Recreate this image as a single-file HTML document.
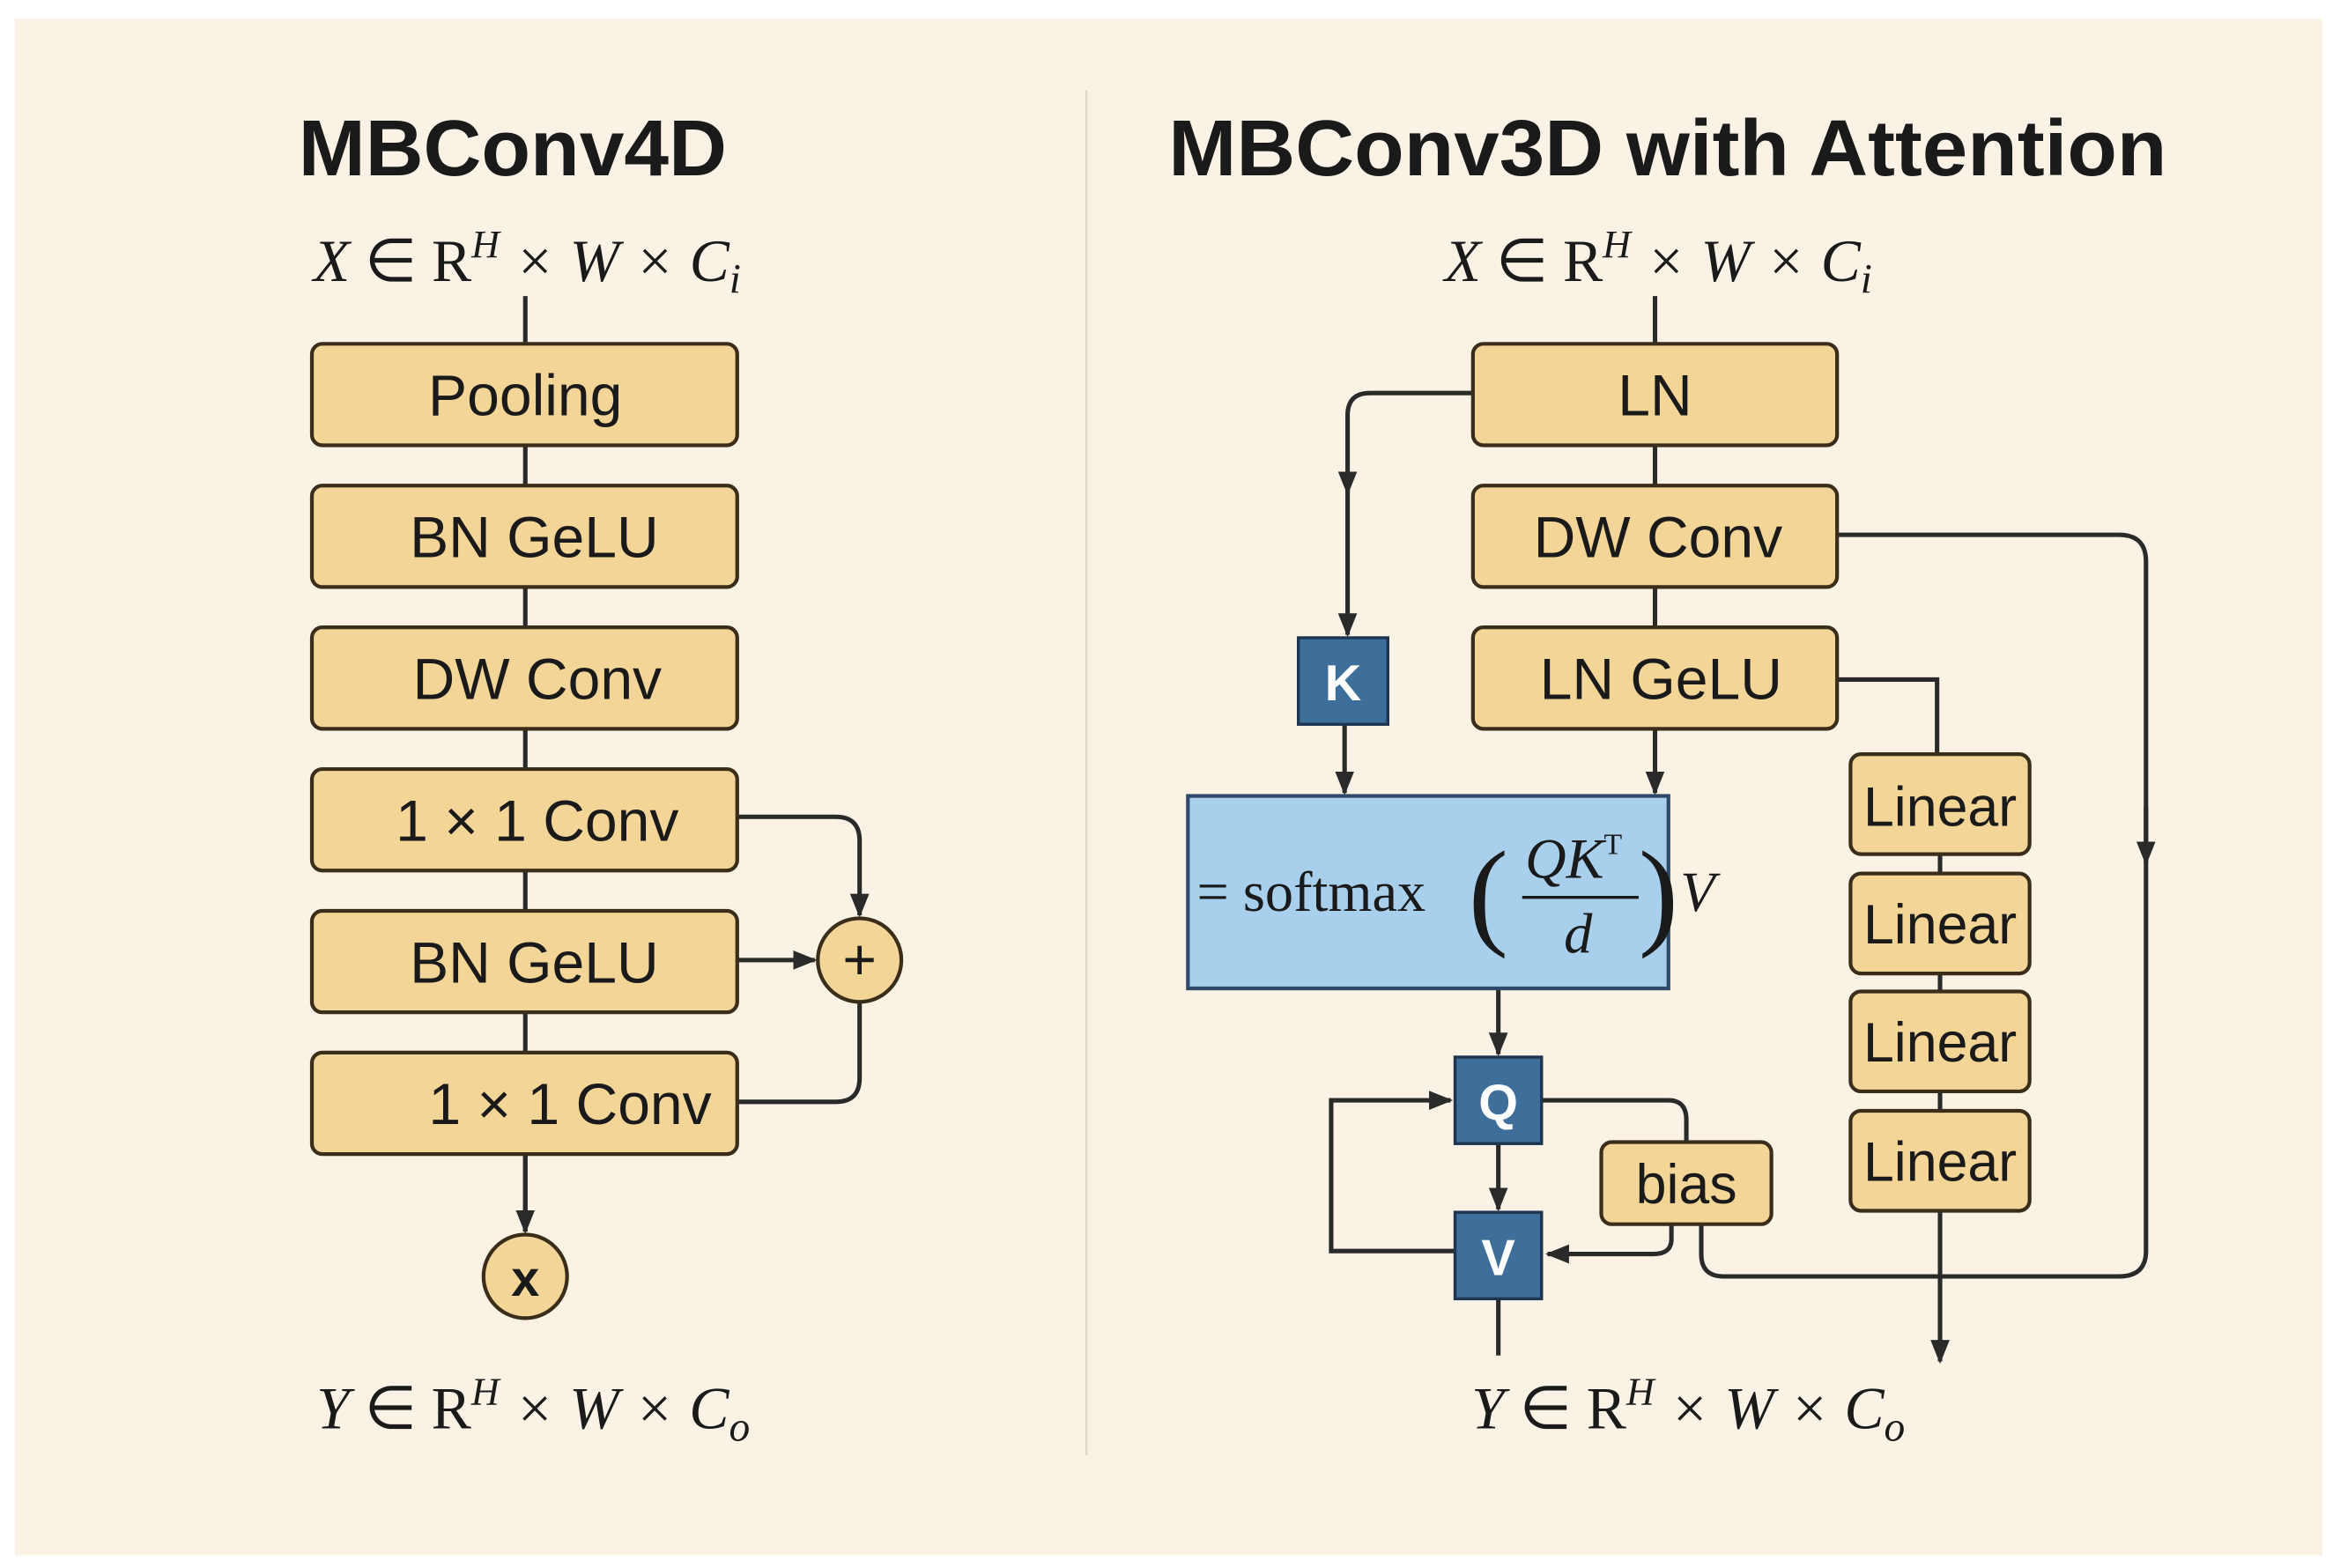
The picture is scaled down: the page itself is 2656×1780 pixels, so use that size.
<!DOCTYPE html>
<html><head><meta charset="utf-8"><style>
html,body{margin:0;padding:0;background:#fff;}
svg{display:block;}
.t{font-family:"Liberation Sans",sans-serif;fill:#1a1a1a;}
.m{font-family:"Liberation Serif",serif;font-style:italic;fill:#1a1a1a;}
</style></head><body>
<svg width="2656" height="1780" viewBox="0 0 1568 1050" xmlns="http://www.w3.org/2000/svg">
<defs>
<marker id="A" viewBox="0 0 10 10" refX="9" refY="5" markerWidth="16" markerHeight="16" markerUnits="userSpaceOnUse" orient="auto"><path d="M0,1 L10,5 L0,9 z" fill="#2a2a2a"/></marker>
</defs>
<rect width="1568" height="1050" fill="#ffffff"/>
<rect x="10" y="12" width="1546" height="1030" fill="#faf2e5"/>
<line x1="728" y1="60" x2="728" y2="975" stroke="#e2d8c8" stroke-width="1.5"/>
<text x="200" y="117" class="t" font-size="53" font-weight="bold" textLength="287" lengthAdjust="spacingAndGlyphs">MBConv4D</text>
<text x="783" y="117" class="t" font-size="53" font-weight="bold" textLength="669" lengthAdjust="spacingAndGlyphs">MBConv3D with Attention</text>
<g fill="none" stroke="#2a2a2a" stroke-width="3">
<line x1="352" y1="198" x2="352" y2="825" />
<line x1="352" y1="773" x2="352" y2="825" marker-end="url(#A)"/>
<path d="M494,547 L560,547 Q576,547 576,563 L576,613" marker-end="url(#A)"/>
<line x1="494" y1="643" x2="546" y2="643" marker-end="url(#A)"/>
<path d="M494,738 L560,738 Q576,738 576,722 L576,672"/>
<line x1="1109" y1="198" x2="1109" y2="420"/>
<path d="M987,263 L918,263 Q903,263 903,278 L903,330" marker-end="url(#A)"/>
<line x1="903" y1="320" x2="903" y2="425" marker-end="url(#A)"/>
<line x1="901" y1="485" x2="901" y2="531" marker-end="url(#A)"/>
<line x1="1109" y1="488" x2="1109" y2="531" marker-end="url(#A)"/>
<path d="M1231,358 L1420,358 Q1438,358 1438,376 L1438,838 Q1438,855 1420,855 L1155,855 Q1140,855 1140,840 L1140,820"/>
<line x1="1438" y1="540" x2="1438" y2="578" marker-end="url(#A)"/>
<path d="M1231,455 L1298,455 L1298,505"/>
<line x1="1300" y1="572" x2="1300" y2="585"/><line x1="1300" y1="652" x2="1300" y2="664"/><line x1="1300" y1="731" x2="1300" y2="744"/>
<line x1="1300" y1="811" x2="1300" y2="912" marker-end="url(#A)"/>
<line x1="1004" y1="662" x2="1004" y2="706" marker-end="url(#A)"/>
<line x1="1004" y1="766" x2="1004" y2="810" marker-end="url(#A)"/>
<path d="M975,838 L892,838 L892,737 L972,737" marker-end="url(#A)"/>
<path d="M1033,737 L1118,737 Q1130,737 1130,750 L1130,765"/>
<path d="M1120,820 L1120,830 Q1120,840 1108,840 L1037,840" marker-end="url(#A)"/>
<line x1="1004" y1="870" x2="1004" y2="908"/>
</g>
<g fill="#f3d597" stroke="#3a2e1a" stroke-width="2.5">
<rect x="209" y="230" width="285" height="68" rx="7"/>
<rect x="209" y="325" width="285" height="68" rx="7"/>
<rect x="209" y="420" width="285" height="68" rx="7"/>
<rect x="209" y="515" width="285" height="68" rx="7"/>
<rect x="209" y="610" width="285" height="68" rx="7"/>
<rect x="209" y="705" width="285" height="68" rx="7"/>
<circle cx="576" cy="643" r="28"/>
<circle cx="352" cy="855" r="28"/>
<rect x="987" y="230" width="244" height="68" rx="7"/>
<rect x="987" y="325" width="244" height="68" rx="7"/>
<rect x="987" y="420" width="244" height="68" rx="7"/>
<rect x="1073" y="765" width="114" height="55" rx="7"/>
<rect x="1240" y="505" width="120" height="67" rx="7"/>
<rect x="1240" y="585" width="120" height="67" rx="7"/>
<rect x="1240" y="664" width="120" height="67" rx="7"/>
<rect x="1240" y="744" width="120" height="67" rx="7"/>
</g>
<rect x="796" y="533" width="322" height="129" fill="#a8d0ec" stroke="#2e4a6b" stroke-width="2.5"/>
<g fill="#3e6f9a" stroke="#1e3550" stroke-width="2">
<rect x="870" y="427" width="60" height="58"/>
<rect x="975" y="708" width="58" height="58"/>
<rect x="975" y="812" width="58" height="58"/>
</g>
<g class="t" font-size="39" text-anchor="middle">
<text x="352" y="278">Pooling</text>
<text x="358" y="373">BN GeLU</text>
<text x="360" y="468">DW Conv</text>
<text x="360" y="563">1 × 1 Conv</text>
<text x="358" y="658">BN GeLU</text>
<text x="382" y="753">1 × 1 Conv</text>
<text x="576" y="656">+</text>
<text x="352" y="868" font-weight="bold" font-size="34">x</text>
<text x="1109" y="278">LN</text>
<text x="1111" y="373">DW Conv</text>
<text x="1113" y="468">LN GeLU</text>
<text x="1130" y="806" font-size="37">bias</text>
<text x="1300" y="553" font-size="37">Linear</text>
<text x="1300" y="632" font-size="37">Linear</text>
<text x="1300" y="711" font-size="37">Linear</text>
<text x="1300" y="791" font-size="37">Linear</text>
</g>
<g class="t" font-size="34" font-weight="bold" text-anchor="middle">
<text x="900" y="469" style="fill:#fff">K</text>
<text x="1004" y="750" style="fill:#fff">Q</text>
<text x="1004" y="854" style="fill:#fff">V</text>
</g>
<g class="m" font-size="40">
<text x="210" y="188">X <tspan font-style="normal">∈ R</tspan><tspan font-size="26" dy="-16">H</tspan><tspan dy="16"> × W × C</tspan><tspan font-size="28" dy="8">i</tspan></text>
<text x="968" y="188">X <tspan font-style="normal">∈ R</tspan><tspan font-size="26" dy="-16">H</tspan><tspan dy="16"> × W × C</tspan><tspan font-size="28" dy="8">i</tspan></text>
<text x="212" y="957">Y <tspan font-style="normal">∈ R</tspan><tspan font-size="26" dy="-16">H</tspan><tspan dy="16"> × W × C</tspan><tspan font-size="28" dy="8">o</tspan></text>
<text x="986" y="957">Y <tspan font-style="normal">∈ R</tspan><tspan font-size="26" dy="-16">H</tspan><tspan dy="16"> × W × C</tspan><tspan font-size="28" dy="8">o</tspan></text>
<text x="802" y="610" font-style="normal" font-size="38">= softmax</text>
<text x="984" y="625" font-style="normal" font-size="80" font-weight="lighter">(</text>
<text x="1098" y="625" font-style="normal" font-size="80" font-weight="lighter">)</text>
<text x="1022" y="588" font-size="38">QK<tspan font-size="20" dy="-16" font-style="normal">T</tspan></text>
<line x1="1020" y1="601" x2="1098" y2="601" stroke="#1a1a1a" stroke-width="2"/>
<text x="1048" y="638" font-size="38">d</text>
<text x="1126" y="610" font-size="38">V</text>
</g>
</svg>
</body></html>
